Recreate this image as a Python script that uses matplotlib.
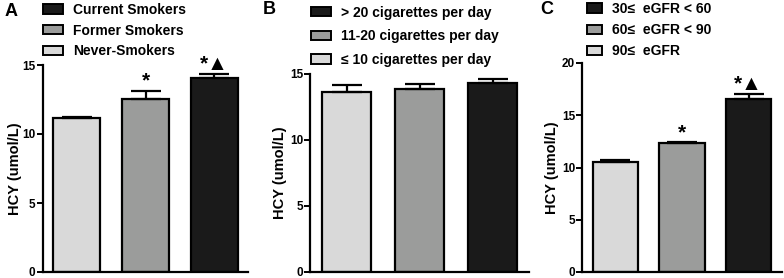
import matplotlib
matplotlib.use('Agg')
import matplotlib.pyplot as plt
import matplotlib.patches as mpatches

plt.rcParams['font.family'] = ['Liberation Sans', 'DejaVu Sans']
plt.rcParams['font.weight'] = 'bold'

# panel A: smoking status
a_labels = ['Never-Smokers', 'Former Smokers', 'Current Smokers']
a_means = [11.14, 12.54, 14.06]
a_errs = [0.11, 0.60, 0.29]
a_marks = ['', '*', '*\u25B2']

# panel B: cigarettes per day
b_labels = ['\u2264 10 cigarettes per day', '11-20 cigarettes per day', '> 20 cigarettes per day']
b_means = [13.67, 13.85, 14.30]
b_errs = [0.50, 0.40, 0.30]
b_marks = ['', '', '']

# panel C: eGFR groups
c_labels = ['90\u2264  eGFR', '60\u2264  eGFR < 90', '30\u2264  eGFR < 60']
c_means = [10.56, 12.31, 16.52]
c_errs = [0.16, 0.13, 0.48]
c_marks = ['', '*', '*\u25B2']

COLORS = ['#d9d9d9', '#9b9c9b', '#1a1a1a']
W, H = 784, 278


def px_axes(fig, left, right, top, bottom):
    return fig.add_axes([left / W, (H - bottom) / H, (right - left) / W, (bottom - top) / H])


def draw_panel(fig, box, letter, letter_xy, labels, means, errs, marks, ymax, yticks,
               leg_xy, leg_space, hlen, ylab_x):
    ax = px_axes(fig, *box)
    x = range(len(means))
    ax.bar(x, means, width=0.68, color=COLORS, edgecolor='black', linewidth=1.6, zorder=2)
    ax.errorbar(x, means, yerr=[[0] * len(errs), errs], fmt='none', ecolor='black',
                elinewidth=1.6, capsize=11, capthick=1.6, zorder=3)
    for xi, m, e, s in zip(x, means, errs, marks):
        if s:
            ax.annotate(s, xy=(xi, m + e), xytext=(0, 0), textcoords='offset points',
                        ha='center', va='bottom', fontsize=15, fontweight='bold',
                        annotation_clip=False)
    ax.set_xlim(-0.5, 2.5)
    ax.set_ylim(0, ymax)
    ax.set_yticks(yticks)
    ax.set_xticks([])
    for sp in ['top', 'right']:
        ax.spines[sp].set_visible(False)
    for sp in ['left', 'bottom']:
        ax.spines[sp].set_linewidth(1.6)
    ax.tick_params(axis='y', length=4, width=1.4, labelsize=8.5, pad=1)
    ax.set_ylabel('HCY (umol/L)', fontsize=10.5, fontweight='bold')
    ax.yaxis.set_label_coords(ylab_x, 0.5)

    handles = [mpatches.Patch(facecolor=c, edgecolor='black', linewidth=1.4, label=l)
               for c, l in zip(COLORS[::-1], labels[::-1])]
    fig.legend(handles=handles, loc='upper left', bbox_to_anchor=(leg_xy[0] / W, 1 - leg_xy[1] / H),
               frameon=False, fontsize=10, handlelength=hlen, handleheight=0.65,
               handletextpad=0.7, labelspacing=leg_space, borderaxespad=0, borderpad=0)
    fig.text(letter_xy[0] / W, 1 - letter_xy[1] / H, letter, fontsize=13, fontweight='bold',
             ha='left', va='center')
    return ax


fig = plt.figure(figsize=(W / 100, H / 100), dpi=100)

draw_panel(fig, (42.5, 248.5, 65, 272), 'A', (5, 12), a_labels, a_means, a_errs, a_marks,
           15, [0, 5, 10, 15], (43, 3), 0.48, 1.45, -0.1)
draw_panel(fig, (310, 529, 74, 272), 'B', (263, 9), b_labels, b_means, b_errs, b_marks,
           15, [0, 5, 10, 15], (311, 5.5), 0.7, 1.45, -0.105)
draw_panel(fig, (582, 782, 63, 272), 'C', (540, 10), c_labels, c_means, c_errs, c_marks,
           20, [0, 5, 10, 15, 20], (587, 2), 0.52, 1.1, -0.115)

plt.savefig('out.png', dpi=100, facecolor='white')
plt.close()
